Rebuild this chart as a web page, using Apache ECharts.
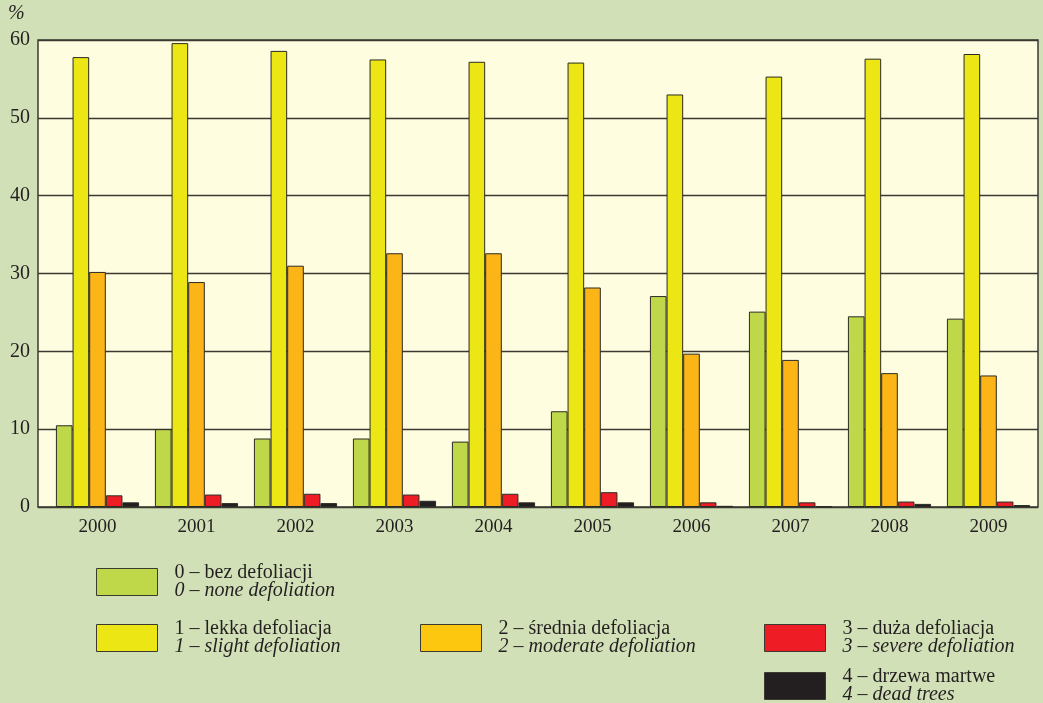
<!DOCTYPE html>
<html>
<head>
<meta charset="utf-8">
<script src="https://cdn.jsdelivr.net/npm/echarts@6/dist/echarts.min.js"></script>
<style>
  html, body { margin: 0; padding: 0; background: #d2e0b7; }
  #chart { width: 1043px; height: 703px; }
</style>
</head>
<body>
<div id="chart"></div>
<script>
// Dane
const years = ['2000', '2001', '2002', '2003', '2004', '2005', '2006', '2007', '2008', '2009'];
const none = [10.5, 10.0, 8.8, 8.8, 8.4, 12.3, 27.1, 25.1, 24.5, 24.2];
const slight = [57.8, 59.6, 58.6, 57.5, 57.2, 57.1, 53.0, 55.3, 57.6, 58.2];
const moderate = [30.2, 28.9, 31.0, 32.6, 32.6, 28.2, 19.7, 18.9, 17.2, 16.9];
const severe = [1.5, 1.6, 1.7, 1.6, 1.7, 1.9, 0.6, 0.6, 0.7, 0.7];
const dead = [0.6, 0.5, 0.5, 0.8, 0.6, 0.6, 0.15, 0.1, 0.4, 0.25];
const yTicks = [0, 10, 20, 30, 40, 50, 60];

const namesPl = ['0 – bez defoliacji', '1 – lekka defoliacja', '2 – średnia defoliacja', '3 – duża defoliacja', '4 – drzewa martwe'];
const namesEn = ['0 – none defoliation', '1 – slight defoliation', '2 – moderate defoliation', '3 – severe defoliation', '4 – dead trees'];
const colors = ['#bed84a', '#ece614', '#fbb516', '#ee1c25', '#231f20'];
const legendColors = ['#bed84a', '#ece614', '#fdc70f', '#ee1c25', '#231f20'];
const legendPos = [[96, 563], [96, 619], [420, 619], [764, 619], [764, 667]];

const serif = '"Liberation Serif", "DejaVu Serif", serif';
const ink = '#231f20';

const chart = echarts.init(document.getElementById('chart'));

const dataSets = [none, slight, moderate, severe, dead];
const series = dataSets.map((d, i) => ({
  name: namesPl[i],
  type: 'bar',
  xAxisIndex: 1,
  yAxisIndex: 1,
  data: d,
  barGap: 0,
  barCategoryGap: '16%',
  animation: false,
  itemStyle: { color: colors[i], borderColor: '#2b2a25', borderWidth: 1 }
}));

const legends = namesPl.map((n, i) => ({
  left: legendPos[i][0],
  top: legendPos[i][1],
  padding: 0,
  orient: 'vertical',
  itemWidth: 61,
  itemHeight: 27,
  icon: 'rect',
  selectedMode: false,
  data: [{ name: n, itemStyle: { color: legendColors[i], borderColor: '#3a3a30', borderWidth: 1 } }],
  formatter: name => `{a|${name}}\n{b|${namesEn[i]}}`,
  textStyle: {
    padding: [0, 0, 0, 12],
    rich: {
      a: { fontFamily: serif, fontSize: 20, color: ink, lineHeight: 18 },
      b: { fontFamily: serif, fontSize: 20, fontStyle: 'italic', color: ink, lineHeight: 18 }
    }
  }
}));

chart.setOption({
  backgroundColor: '#d2e0b7',
  legend: legends,
  graphic: [{
    type: 'text', left: 8, top: 4,
    style: { text: '%', font: 'italic 20px ' + serif, fill: ink }
  }],
  grid: [
    { left: 38, right: 5, top: 40, bottom: 196, show: true, backgroundColor: '#fffde0',
      borderColor: '#3a3a33', borderWidth: 1.5 },
    { left: 48, right: 5, top: 40, bottom: 196 }
  ],
  xAxis: [
    { gridIndex: 0, type: 'category', data: years, show: false },
    { gridIndex: 1, type: 'category', data: years,
      axisLine: { show: false }, axisTick: { show: false },
      axisLabel: { fontFamily: serif, fontSize: 19, color: ink, margin: 11 } }
  ],
  yAxis: [
    { gridIndex: 0, type: 'value', min: yTicks[0], max: yTicks[yTicks.length - 1], interval: 10,
      axisLine: { show: false }, axisTick: { show: false },
      axisLabel: { fontFamily: serif, fontSize: 20, color: ink, margin: 8 },
      splitLine: { lineStyle: { color: '#3a3a33', width: 1.3 } } },
    { gridIndex: 1, type: 'value', min: 0, max: 60, interval: 10, show: false,
      splitLine: { show: false } }
  ],
  series: series
});
</script>
</body>
</html>
